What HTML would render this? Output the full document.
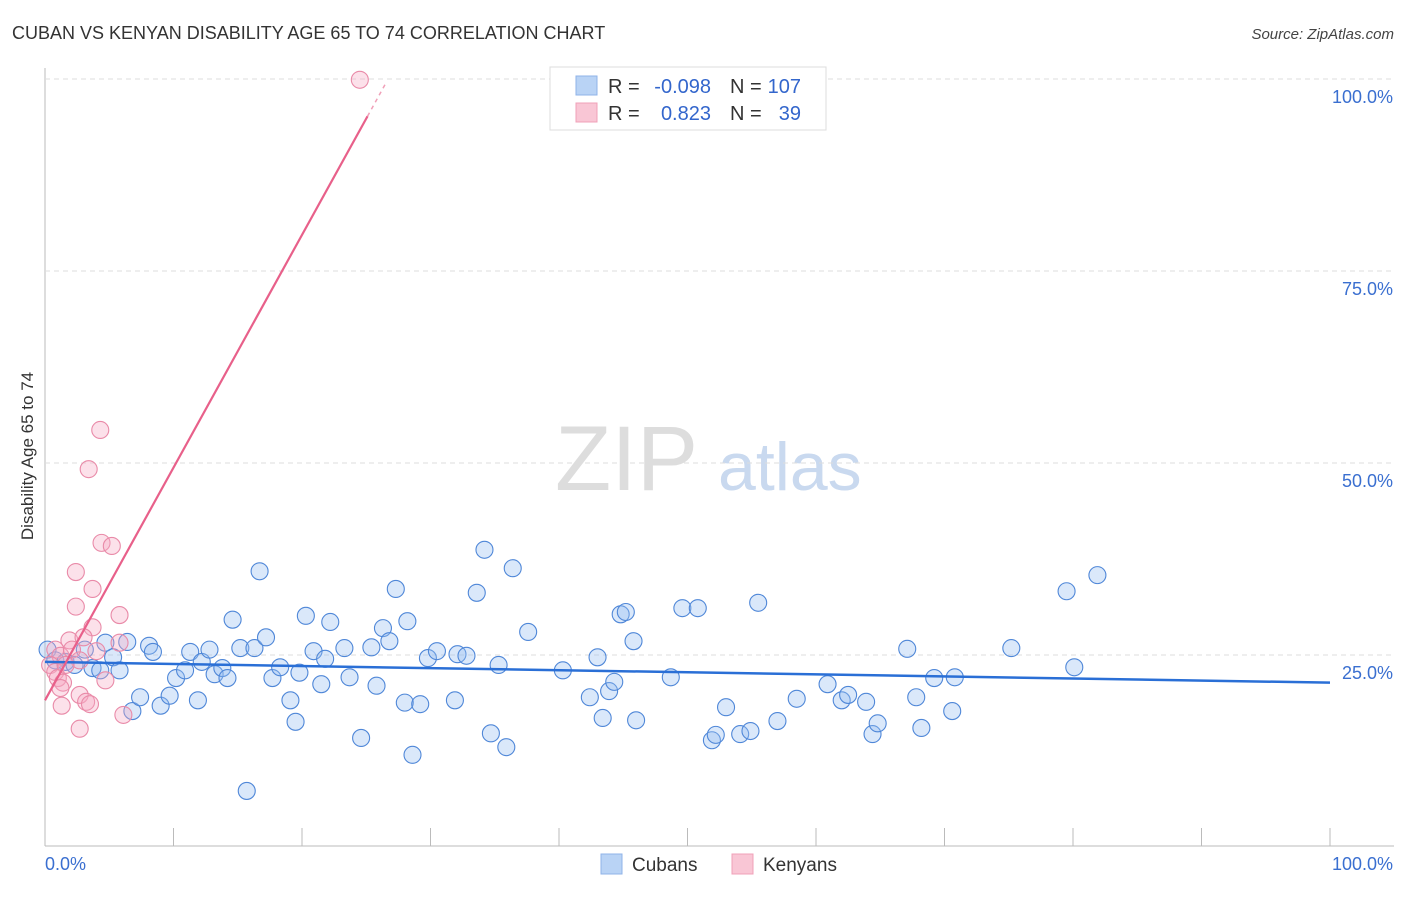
<!DOCTYPE html>
<html><head><meta charset="utf-8"><style>
body{margin:0;background:#fff;font-family:"Liberation Sans",sans-serif}
svg text{font-family:"Liberation Sans",sans-serif}
</style></head><body>
<svg id="c" width="1406" height="892" xmlns="http://www.w3.org/2000/svg">
<text x="12" y="39" font-size="18" fill="#333">CUBAN VS KENYAN DISABILITY AGE 65 TO 74 CORRELATION CHART</text>
<text x="1394" y="39" font-size="15" fill="#444" text-anchor="end" font-style="italic">Source: ZipAtlas.com</text>
<text x="555" y="490" font-size="92" fill="#ddd" font-family="Liberation Serif">ZIP</text>
<text x="718" y="490" font-size="68" fill="#c9d9ef">atlas</text>
<text transform="translate(33,456) rotate(-90)" font-size="17" fill="#333" text-anchor="middle">Disability Age 65 to 74</text>
<g id="grid"></g><g id="pts"></g><g id="lines"></g>
<g>
<rect x="550" y="67" width="276" height="63" fill="#fff" stroke="#ddd"/>
<rect x="576" y="76" width="21" height="19" fill="#b9d3f5" stroke="#8fb3e8"/>
<rect x="576" y="103" width="21" height="19" fill="#f9c6d5" stroke="#f0a0b8"/>
<text x="608" y="93" font-size="20" fill="#333">R =</text>
<text x="711" y="93" font-size="20" fill="#3366cc" text-anchor="end">-0.098</text>
<text x="730" y="93" font-size="20" fill="#333">N =</text>
<text x="801" y="93" font-size="20" fill="#3366cc" text-anchor="end">107</text>
<text x="608" y="120" font-size="20" fill="#333">R =</text>
<text x="711" y="120" font-size="20" fill="#3366cc" text-anchor="end">0.823</text>
<text x="730" y="120" font-size="20" fill="#333">N =</text>
<text x="801" y="120" font-size="20" fill="#3366cc" text-anchor="end">39</text>
</g>
<g>
<rect x="601" y="854" width="21" height="20" fill="#b9d3f5" stroke="#8fb3e8"/>
<text x="632" y="871" font-size="19" fill="#333">Cubans</text>
<rect x="732" y="854" width="21" height="20" fill="#f9c6d5" stroke="#f0a0b8"/>
<text x="763" y="871" font-size="19" fill="#333">Kenyans</text>
</g>
</svg>
<script>
const yTicks=[25,50,75,100];
const yTickLabels=["25.0%","50.0%","75.0%","100.0%"];
const xTickLabels=["0.0%","100.0%"];
const cubanX=[0.2,0.8,1.6,2.3,3.1,3.7,4.3,4.7,5.3,5.8,6.4,6.8,7.4,8.1,8.4,9.0,9.7,10.2,10.9,11.3,11.9,12.2,12.8,13.2,13.8,14.2,14.6,15.2,15.7,16.3,16.7,17.2,17.7,18.3,19.1,19.5,19.8,20.3,20.9,21.5,21.8,22.2,23.3,23.7,24.6,25.4,25.8,26.3,26.8,27.3,28.0,28.2,28.6,29.2,29.8,30.5,31.9,32.1,32.8,33.6,34.2,34.7,35.3,35.9,36.4,37.6,40.3,42.4,43.0,43.4,43.9,44.3,44.8,45.2,45.8,46.0,48.7,49.6,50.8,51.9,52.2,53.0,54.1,54.9,55.5,57.0,58.5,60.9,62.0,62.5,63.9,64.4,64.8,67.1,67.8,68.2,69.2,70.6,70.8,75.2,79.5,80.1,81.9];
const cubanY=[25.7,24.3,24.1,23.7,25.7,23.3,23.0,26.6,24.7,23.0,26.7,17.7,19.5,26.2,25.4,18.4,19.7,22.0,23.0,25.4,19.1,24.1,25.7,22.5,23.3,22.0,29.6,25.9,7.3,25.9,35.9,27.3,22.0,23.4,19.1,16.3,22.7,30.1,25.5,21.2,24.5,29.3,25.9,22.1,14.2,26.0,21.0,28.5,26.8,33.6,18.8,29.4,12.0,18.6,24.6,25.5,19.1,25.1,24.9,33.1,38.7,14.8,23.7,13.0,36.3,28.0,23.0,19.5,24.7,16.8,20.3,21.5,30.3,30.6,26.8,16.5,22.1,31.1,31.1,13.9,14.6,18.2,14.7,15.1,31.8,16.4,19.3,21.2,19.1,19.8,18.9,14.7,16.1,25.8,19.5,15.5,22.0,17.7,22.1,25.9,33.3,23.4,35.4];
const kenyanX=[24.5,4.3,3.4,4.4,5.2,2.4,3.7,2.4,5.8,3.7,5.8,1.9,3.0,4.0,0.8,1.2,0.4,0.8,1.0,1.4,1.2,2.7,3.2,3.5,1.3,4.7,6.1,2.7,2.1,2.7,1.6];
const kenyanY=[99.9,54.3,49.2,39.6,39.2,35.8,33.6,31.3,30.2,28.6,26.6,26.9,27.3,25.5,25.7,24.9,23.7,22.8,22.0,21.4,20.7,19.8,18.9,18.6,18.4,21.7,17.2,15.4,25.7,24.3,23.7];
const cubanTrend=[24.1,21.4];
const kenyanTrend=[19.1,3.03];
const X=v=>45+v*12.85, Y=v=>847-v*7.68;
const NS="http://www.w3.org/2000/svg";
function mk(p,t,a){const e=document.createElementNS(NS,t);for(const k in a)e.setAttribute(k,a[k]);p.appendChild(e);return e;}
const g=document.getElementById('grid');
let ax=mk(g,'line',{x1:45,y1:68,x2:45,y2:846,stroke:'#bbb'});


let bx=mk(g,'line',{x1:45,y1:846,x2:1394,y2:846,stroke:'#bbb'});


for(let i=0;i<=10;i++){const t=mk(g,'line',{x1:X(i*10),x2:X(i*10),y1:828,y2:846,stroke:'#bbb'});

}
yTicks.forEach((v,i)=>{const l=mk(g,'line',{x1:45,x2:1394,y1:Y(v),y2:Y(v),stroke:'#ddd','stroke-dasharray':'5,4'});


const t=mk(g,'text',{x:1393,y:Y(v)+24,'font-size':18,fill:'#3a6fd0','text-anchor':'end'});t.textContent=yTickLabels[i];

});
[[45,'start'],[1393,'end']].forEach((p,i)=>{const t=mk(g,'text',{x:p[0],y:870,'font-size':18,fill:'#3a6fd0','text-anchor':p[1]});t.textContent=xTickLabels[i];

});
const pg=document.getElementById('pts');
cubanX.forEach((x,i)=>{const c=mk(pg,'circle',{cx:X(x),cy:Y(cubanY[i]),r:8.5,fill:'rgba(150,190,240,0.35)',stroke:'#4f87d8','stroke-width':1.1});

});
kenyanX.forEach((x,i)=>{const c=mk(pg,'circle',{cx:X(x),cy:Y(kenyanY[i]),r:8.5,fill:'rgba(245,170,195,0.35)',stroke:'#e98aa8','stroke-width':1.1});

});
const lg=document.getElementById('lines');
let bl=mk(lg,'line',{x1:X(0),y1:Y(cubanTrend[0]),x2:X(100),y2:Y(cubanTrend[1]),stroke:'#2a6fd6','stroke-width':2.5});


const kx=25.1, kx2=26.6;
let pl=mk(lg,'line',{x1:X(0),y1:Y(kenyanTrend[0]),x2:X(kx),y2:Y(kenyanTrend[0]+kenyanTrend[1]*kx),stroke:'#e8608a','stroke-width':2.2});


let pd=mk(lg,'line',{x1:X(kx),y1:Y(kenyanTrend[0]+kenyanTrend[1]*kx),x2:X(kx2),y2:Y(kenyanTrend[0]+kenyanTrend[1]*kx2),stroke:'#f0a0b8','stroke-width':1.5,'stroke-dasharray':'4,4'});


</script>
</body></html>
